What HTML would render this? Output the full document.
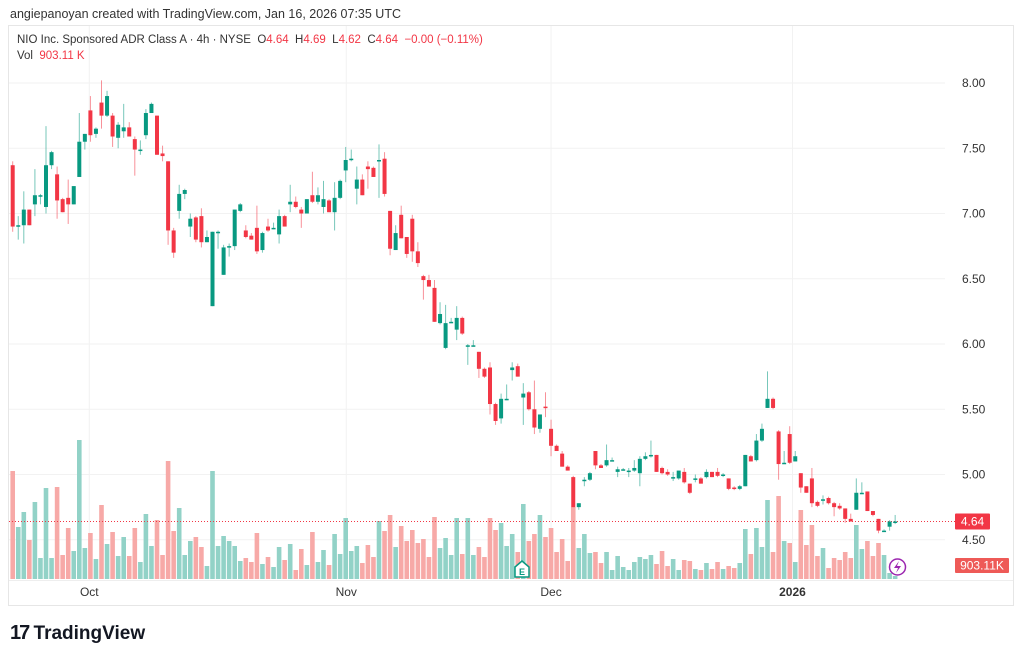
<!DOCTYPE html>
<html><head><meta charset="utf-8"><style>
body{margin:0;width:1024px;height:661px;background:#fff;font-family:"Liberation Sans",sans-serif;overflow:hidden;position:relative}
.t{position:absolute;white-space:nowrap}
</style></head><body>
<div class="t" style="left:10px;top:7px;font-size:12.5px;color:#333">angiepanoyan created with TradingView.com, Jan 16, 2026 07:35 UTC</div>
<svg id="chart" width="1024" height="661" style="position:absolute;left:0;top:0"></svg>
<div class="t" style="left:17px;top:34px;font-size:11.5px;color:#333">NIO Inc. Sponsored ADR Class A · 4h · NYSE&nbsp; O<span style="color:#f23645">4.64</span>&nbsp; H<span style="color:#f23645">4.69</span>&nbsp; L<span style="color:#f23645">4.62</span>&nbsp; C<span style="color:#f23645">4.64</span>&nbsp; <span style="color:#f23645">−0.00 (−0.11%)</span></div>
<div class="t" style="left:17px;top:50px;font-size:11.5px;color:#333">Vol&nbsp; <span style="color:#f23645">903.11 K</span></div>
<div class="t" style="left:10px;top:622px;font-size:19px;font-weight:bold;color:#131722"><span style="letter-spacing:-2px;font-size:20px">17</span> TradingView</div>
<script>
const opens=[7.37,6.91,6.91,7.03,7.07,7.14,7.05,7.37,7.30,7.11,7.12,7.07,7.28,7.55,7.79,7.61,7.85,7.75,7.75,7.58,7.63,7.66,7.57,7.49,7.60,7.77,7.75,7.46,7.40,6.87,7.02,7.15,6.90,6.97,6.98,6.78,6.29,6.86,6.53,6.74,6.75,7.02,6.87,6.83,6.89,6.72,6.90,6.89,6.84,6.98,7.07,7.09,7.03,7.00,7.14,7.09,7.05,7.10,7.01,7.12,7.33,7.42,7.19,7.26,7.36,7.35,7.41,7.42,7.02,6.72,6.99,6.82,6.96,6.71,6.52,6.49,6.43,6.16,5.97,6.17,6.11,6.20,5.99,5.99,5.94,5.81,5.82,5.54,5.43,5.58,5.80,5.83,5.59,5.63,5.50,5.35,5.52,5.35,5.22,5.16,5.06,4.98,4.75,4.96,4.96,5.18,5.07,5.07,5.11,5.02,5.04,5.02,5.03,5.01,5.12,5.14,5.15,5.05,5.02,4.98,4.97,5.02,4.93,4.97,4.97,4.98,5.02,5.02,5.00,4.97,4.90,4.89,4.91,5.14,5.11,5.26,5.51,5.58,5.33,5.09,5.31,5.10,5.01,4.91,4.97,4.79,4.81,4.82,4.78,4.76,4.74,4.66,4.73,4.86,4.87,4.72,4.66,4.57,4.60,4.64];
const closes=[6.90,6.91,7.03,6.91,7.14,7.14,7.37,7.47,7.10,7.01,7.07,7.21,7.55,7.61,7.60,7.65,7.75,7.90,7.59,7.68,7.66,7.59,7.49,7.49,7.77,7.84,7.45,7.44,6.87,6.70,7.15,7.18,6.96,6.80,6.78,6.82,6.86,6.86,6.74,6.75,7.03,7.07,6.82,6.80,6.71,6.85,6.87,6.89,6.98,6.90,7.09,7.05,7.00,7.11,7.09,7.14,7.11,7.01,7.12,7.25,7.41,7.42,7.26,7.14,7.34,7.28,7.41,7.15,6.73,6.85,6.81,6.69,6.71,6.62,6.49,6.44,6.17,6.23,6.16,6.17,6.20,6.08,5.99,5.99,5.81,5.75,5.54,5.41,5.58,5.58,5.82,5.75,5.62,5.50,5.36,5.46,5.51,5.22,5.18,5.06,5.03,4.75,4.78,4.96,5.01,5.07,5.05,5.11,5.11,5.04,5.04,5.03,5.05,5.12,5.14,5.15,5.02,5.01,5.00,4.98,5.03,4.94,4.86,4.97,4.93,5.02,4.98,4.99,5.00,4.89,4.89,4.91,5.15,5.10,5.26,5.35,5.58,5.51,5.08,5.09,5.09,5.14,4.90,4.86,4.78,4.76,4.81,4.78,4.75,4.74,4.66,4.64,4.86,4.86,4.72,4.69,4.57,4.57,4.64,4.64];
const highs=[7.40,6.98,7.17,7.03,7.34,7.15,7.67,7.48,7.36,7.12,7.26,7.21,7.77,7.61,7.90,7.66,8.02,7.94,7.77,7.70,7.84,7.70,7.59,7.56,7.80,7.85,7.75,7.52,7.40,6.89,7.22,7.19,7.00,6.98,7.04,6.87,6.86,6.87,6.76,6.77,7.03,7.08,6.91,6.85,7.06,6.86,6.96,6.93,7.03,6.99,7.22,7.13,7.05,7.11,7.32,7.20,7.25,7.11,7.24,7.26,7.51,7.49,7.36,7.30,7.40,7.36,7.53,7.47,7.02,6.91,7.06,6.82,6.99,6.78,6.53,6.53,6.49,6.32,6.30,6.20,6.29,6.21,6.00,6.03,5.94,5.82,5.86,5.55,5.62,5.69,5.86,5.85,5.70,5.64,5.72,5.46,5.63,5.42,5.23,5.18,5.07,4.99,4.78,4.98,5.02,5.18,5.08,5.23,5.13,5.06,5.05,5.05,5.11,5.14,5.17,5.26,5.15,5.06,5.04,5.02,5.03,5.05,4.93,5.00,4.98,5.04,5.02,5.05,5.01,4.97,4.91,4.92,5.15,5.15,5.31,5.39,5.79,5.59,5.34,5.18,5.37,5.18,5.01,4.91,5.05,4.80,4.84,4.83,4.79,4.78,4.74,4.70,4.97,4.94,4.87,4.72,4.66,4.58,4.65,4.69];
const lows=[6.86,6.80,6.77,6.91,6.98,7.07,7.00,7.34,6.96,7.01,6.92,7.07,7.28,7.49,7.55,7.58,7.65,7.74,7.51,7.50,7.58,7.59,7.29,7.45,7.57,7.77,7.45,7.40,6.76,6.66,6.96,7.11,6.82,6.78,6.74,6.78,6.29,6.73,6.53,6.67,6.72,7.01,6.81,6.80,6.69,6.70,6.86,6.88,6.77,6.90,7.01,7.04,6.89,7.00,7.08,7.07,7.00,7.01,6.87,7.11,7.24,7.40,7.07,7.14,7.19,7.28,7.12,7.13,6.68,6.72,6.81,6.66,6.63,6.59,6.34,6.44,6.17,6.15,5.96,6.16,6.03,6.07,5.84,5.98,5.74,5.74,5.46,5.38,5.39,5.57,5.72,5.75,5.38,5.49,5.31,5.32,5.44,5.14,5.18,5.06,5.03,4.75,4.73,4.91,4.95,5.04,5.05,5.06,5.10,4.98,5.03,4.98,5.02,4.91,5.11,5.13,5.02,5.00,4.99,4.95,4.96,4.93,4.85,4.94,4.93,4.97,4.98,4.98,4.98,4.88,4.88,4.88,4.91,5.10,5.10,5.25,5.51,5.50,4.96,5.08,5.08,5.10,4.86,4.86,4.75,4.75,4.77,4.77,4.68,4.73,4.63,4.64,4.73,4.85,4.72,4.68,4.55,4.56,4.57,4.62];
const volumes=[108,52,67,39,77,21,91,21,92,24,51,28,139,31,46,20,74,35,47,23,42,23,51,17,65,33,59,24,118,48,71,24,38,42,32,13,108,33,43,38,33,18,21,17,46,15,22,12,32,19,35,9,30,14,47,17,29,14,45,25,61,28,33,16,34,22,58,48,64,32,53,38,49,36,40,22,62,31,41,24,61,25,61,24,32,22,61,49,56,33,45,27,75,38,45,64,42,51,27,40,18,72,31,45,26,27,16,27,9,23,12,9,17,22,20,24,15,28,13,20,9,19,18,10,9,16,10,17,10,13,11,16,50,25,51,32,79,27,83,38,36,17,69,34,54,23,31,11,21,19,27,21,54,30,38,23,36,24,6,3];
const priceTicks=[8.00,7.50,7.00,6.50,6.00,5.50,5.00,4.50];
const monthLabels=["Oct","Nov","Dec","2026"];
const monthIndex=[13.8,60.1,97,140.5];
const lastPrice=4.64;

const svg=document.getElementById('chart');
const NS='http://www.w3.org/2000/svg';
const X0=12.7,DX=5.55,PLOT_R=945,VBASE=579;
const xOf=i=>X0+DX*i;
const yOf=p=>83+(8-p)*130.5;
const yVol=v=>VBASE-v;
function mk(tag,attrs,parent){const e=document.createElementNS(NS,tag);for(const k in attrs)e.setAttribute(k,attrs[k]);(parent||svg).appendChild(e);return e;}

const frame=mk('rect',{x:8.5,y:25.5,width:1005,height:580,fill:'none',stroke:'#e6e6e6'});


const grid=mk('g',{});


priceTicks.forEach(p=>{
  const y=yOf(p);
  mk('line',{x1:9,x2:PLOT_R,y1:y,y2:y,stroke:'#f2f2f2'},grid);
  const t=mk('text',{x:962,y:y+4,'font-size':12,fill:'#333','font-family':'Liberation Sans'});
  t.textContent=p.toFixed(2);
  
  
});
monthLabels.forEach((m,k)=>{
  const x=xOf(monthIndex[k]);
  mk('line',{x1:x,x2:x,y1:26,y2:580,stroke:'#f2f2f2'},grid);
  const t=mk('text',{x:x,y:596,'font-size':12,fill:'#333','text-anchor':'middle','font-weight':m==='2026'?'bold':'normal','font-family':'Liberation Sans'});
  t.textContent=m;
  
  
});
mk('line',{x1:9,x2:1013,y1:580.5,y2:580.5,stroke:'#eeeeee'});

const vg=mk('g',{});


volumes.forEach((v,i)=>{
  const up=closes[i]>=opens[i];
  const r=mk('rect',{x:xOf(i)-2.3,y:yVol(v),width:4.6,height:v,fill:up?'#92d2c7':'#f7a9a7'},vg);
  
  
});
const pl=mk('line',{x1:9,x2:955,y1:yOf(lastPrice),y2:yOf(lastPrice),stroke:'#f23645','stroke-dasharray':'1 2','stroke-width':1});



const cg=mk('g',{});


opens.forEach((o,i)=>{
  const c=closes[i],up=c>=o,col=up?'#089981':'#f23645';
  const x=xOf(i);
  const w=mk('line',{x1:x,x2:x,y1:yOf(highs[i]),y2:yOf(lows[i]),stroke:col,'stroke-width':1,'stroke-opacity':0.55},cg);
  
  
  const top=yOf(Math.max(o,c)),h=Math.max(1.5,yOf(Math.min(o,c))-top);
  const b=mk('rect',{x:x-2,y:top,width:4,height:h,fill:col},cg);
  
  
});

const lb=mk('rect',{x:955,y:yOf(lastPrice)-8,width:35,height:16,fill:'#f23645',rx:1});


const lt=mk('text',{x:972.5,y:yOf(lastPrice)+4,'font-size':12,fill:'#fff','text-anchor':'middle','font-family':'Liberation Sans'});
lt.textContent=lastPrice.toFixed(2);


const vb=mk('rect',{x:955,y:558,width:54,height:15,fill:'#ee5a57',rx:1});


const vt=mk('text',{x:982,y:569.5,'font-size':12,fill:'#fff','text-anchor':'middle','font-family':'Liberation Sans'});
vt.textContent='903.11K';



const eg=mk('g',{});


mk('path',{d:'M515,567 L522,561 L529,567 L529,577 L515,577 Z',fill:'#fff',stroke:'#089981','stroke-width':1.5},eg);
const et=mk('text',{x:522,y:575,'font-size':9,'font-weight':'bold',fill:'#089981','text-anchor':'middle','font-family':'Liberation Sans'},eg);
et.textContent='E';
const fg=mk('g',{});


mk('circle',{cx:897.5,cy:567,r:8,fill:'#fff',stroke:'#9c27b0','stroke-width':1.5},fg);
mk('path',{d:'M899,561 L894,568 L898,568 L896,573 L901,566 L897,566 Z',fill:'#9c27b0'},fg);
</script>
</body></html>
